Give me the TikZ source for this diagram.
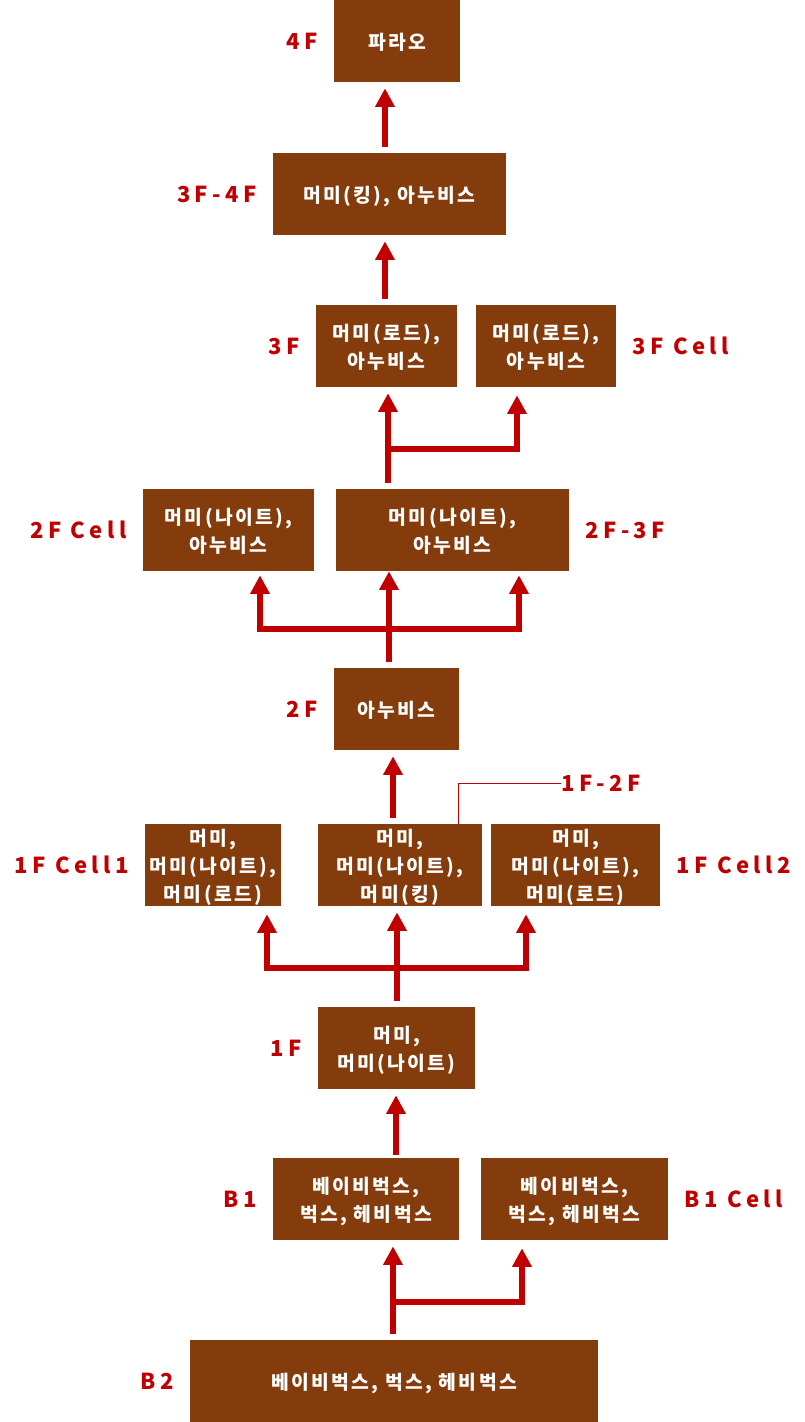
\documentclass[tikz,border=0pt]{standalone}
\usepackage{fontspec}
\setmainfont{Noto Sans CJK KR}
\newfontfamily\hangul[LetterSpace=12]{Noto Sans CJK KR}
\newfontfamily\floorlatin[LetterSpace=20]{Noto Sans CJK KR}
\usetikzlibrary{arrows.meta,positioning,calc}
\definecolor{Brick}{HTML}{843C0C}
\definecolor{Signal}{HTML}{C00000}
\newcommand{\roomfont}{\hangul\fontsize{14.5}{21}\selectfont\bfseries}
\newcommand{\tagfont}{\floorlatin\fontsize{16.5}{18}\selectfont\bfseries}

\begin{document}
\begin{tikzpicture}[x=0.75pt,y=-0.75pt,
  room/.style={fill=Brick,text=white,font=\roomfont,align=center,inner sep=0pt,text depth=-2pt,minimum height=61.5pt,minimum width=#1*0.75pt},
  tag/.style={text=Signal,font=\tagfont,inner sep=0pt},
  up/.style={-{Triangle[length=14pt,width=14pt]},line width=4.8pt,draw=Signal,shorten <=4pt,shorten >=4.5pt},
  branch/.style={up,shorten <=0pt},
  callout/.style={draw=Signal,line width=0.6pt},
  node distance=12pt]
  \useasboundingbox (0,0) rectangle (805,1422);

  % rooms, top to bottom
  \node[room=126] (pharaoh) at (397,41) {파라오};
  \node[room=233] (kingA) at (389.5,194) {머미(킹), 아누비스};
  \node[room=141] (lordA) at (386.5,346) {머미(로드),\\아누비스};
  \node[room=140] (lordCell) at (546,346) {머미(로드),\\아누비스};
  \node[room=171] (knightCell) at (228.5,530) {머미(나이트),\\아누비스};
  \node[room=233] (knightA) at (452.5,530) {머미(나이트),\\아누비스};
  \node[room=125] (anubis) at (396.5,709) {아누비스};
  \node[room=136] (cellOne) at (213,865) {머미,\\머미(나이트),\\머미(로드)};
  \node[room=164] (kingB) at (400,865) {머미,\\머미(나이트),\\머미(킹)};
  \node[room=169] (cellTwo) at (575.5,865) {머미,\\머미(나이트),\\머미(로드)};
  \node[room=157] (mummy) at (396.5,1048) {머미,\\머미(나이트)};
  \node[room=186] (babyA) at (366,1199) {베이비벅스,\\벅스, 헤비벅스};
  \node[room=187] (babyCell) at (574.5,1199) {베이비벅스,\\벅스, 헤비벅스};
  \node[room=408] (babyB) at (394,1381) {베이비벅스, 벅스, 헤비벅스};

  % floor tags
  \node[tag,left=of pharaoh] (t4F) {4F};
  \node[tag,left=of kingA] (t34F) {3F-4F};
  \node[tag,left=of lordA] (t3F) {3F};
  \node[tag,right=of lordCell] (t3Fc) {3F Cell};
  \node[tag,left=of knightCell] (t2Fc) {2F Cell};
  \node[tag,right=of knightA] (t23F) {2F-3F};
  \node[tag,left=of anubis] (t2F) {2F};
  \node[tag,left=of cellOne] (t1Fc1) {1F Cell1};
  \node[tag,right=of cellTwo] (t1Fc2) {1F Cell2};
  \node[tag,anchor=west] (t12F) at (561,783) {1F-2F};
  \node[tag,left=of mummy] (t1F) {1F};
  \node[tag,left=of babyA] (tB1) {B1};
  \node[tag,right=of babyCell] (tB1c) {B1 Cell};
  \node[tag,left=of babyB] (tB2) {B2};

  % straight climbs
  \coordinate (c1) at (385,0);
  \draw[up] (kingA.north -| c1) -- (pharaoh.south -| c1);
  \draw[up] (lordA.north -| c1) -- (kingA.south -| c1);
  \coordinate (c2) at (393,0);
  \draw[up] (kingB.north -| c2) -- (anubis.south -| c2);
  \coordinate (c3) at (396,0);
  \draw[up,shorten <=2pt] (babyA.north -| c3) -- (mummy.south -| c3);

  % 3F fork
  \coordinate (f3) at (388,449);
  \coordinate (f3r) at (517,0);
  \draw[up] (knightA.north -| f3) -- (lordA.south -| f3);
  \draw[branch,shorten >=6pt] (f3) -| (lordCell.south -| f3r);

  % 2F fork
  \coordinate (f2) at (389,629);
  \coordinate (f2l) at (260,0);
  \coordinate (f2r) at (519,0);
  \draw[up,shorten >=0pt] (anubis.north -| f2) -- (knightA.south -| f2);
  \draw[branch,shorten >=3pt] (f2) -| (knightCell.south -| f2l);
  \draw[branch,shorten >=3pt] (f2) -| (knightA.south -| f2r);

  % 1F fork
  \coordinate (f1) at (397,968);
  \coordinate (f1l) at (267,0);
  \coordinate (f1r) at (526,0);
  \draw[up] (mummy.north -| f1) -- (kingB.south -| f1);
  \draw[branch,shorten >=6pt] (f1) -| (cellOne.south -| f1l);
  \draw[branch,shorten >=6pt] (f1) -| (cellTwo.south -| f1r);

  % B1 fork
  \coordinate (fb) at (393,1302);
  \coordinate (fbr) at (522,0);
  \draw[up] (babyB.north -| fb) -- (babyA.south -| fb);
  \draw[branch,shorten >=6pt] (fb) -| (babyCell.south -| fbr);

  % 1F-2F callout
  \coordinate (k12) at (458,0);
  \draw[callout] (kingB.north -| k12) |- (t12F.west);
\end{tikzpicture}
\end{document}
